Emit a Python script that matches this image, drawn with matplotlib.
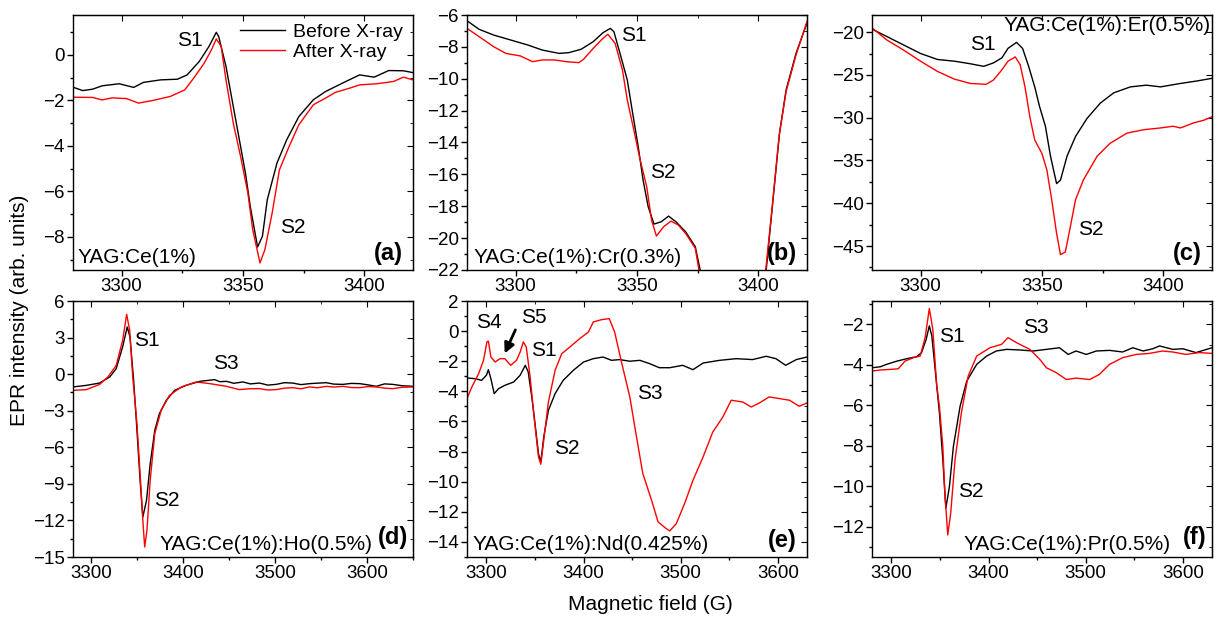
import numpy as np
import matplotlib
matplotlib.use('Agg')
from matplotlib import pyplot as plt
from matplotlib.ticker import MultipleLocator

plt.rcParams['font.family'] = ['Liberation Sans', 'DejaVu Sans']

# (a) YAG:Ce(1%)
a_bx = [3280, 3284, 3288, 3292, 3299, 3305, 3309, 3316, 3323, 3327, 3332, 3336, 3339, 3340, 3343, 3346,
        3349, 3351, 3353, 3356, 3358, 3360, 3364, 3368, 3373, 3379, 3384, 3391, 3398, 3404, 3410, 3416, 3420]
a_by = [-1.42, -1.57, -1.51, -1.36, -1.27, -1.43, -1.21, -1.10, -1.07, -0.88, -0.29, 0.37, 0.99, 0.80, -0.51, -2.27,
        -4.02, -5.19, -6.66, -8.44, -7.97, -6.36, -4.75, -3.73, -2.71, -1.97, -1.61, -1.24, -0.88, -0.98, -0.69, -0.70, -0.78]
a_ax = [3280, 3288, 3292, 3296, 3302, 3307, 3313, 3320, 3326, 3330, 3334, 3337, 3339, 3341, 3343, 3346, 3349,
        3352, 3354, 3357, 3359, 3362, 3365, 3369, 3373, 3379, 3384, 3388, 3394, 3398, 3405, 3412, 3416, 3420]
a_ay = [-1.86, -1.87, -1.98, -1.89, -1.92, -2.12, -2.00, -1.83, -1.54, -0.98, -0.37, 0.22, 0.70, 0.37, -1.10, -3.00, -4.46,
        -6.07, -7.68, -9.14, -8.56, -6.95, -5.05, -4.02, -3.07, -2.19, -1.90, -1.65, -1.46, -1.32, -1.27, -1.17, -0.98, -1.10]

# (b) YAG:Ce(1%):Cr(0.3%)
b_bx = [3280, 3285, 3291, 3298, 3305, 3311, 3318, 3322, 3327, 3332, 3336, 3339, 3340.5, 3343, 3346, 3348,
        3350.5, 3352.5, 3354.6, 3357, 3360, 3363, 3366, 3370, 3374, 3376, 3380, 3390, 3400, 3403.2, 3406,
        3408.7, 3411.4, 3415.5, 3420]
b_by = [-6.36, -6.90, -7.26, -7.57, -7.88, -8.20, -8.41, -8.36, -8.15, -7.67, -7.11, -6.84, -7.05, -8.41, -10.08, -11.96,
        -14.26, -16.35, -18.03, -19.12, -18.97, -18.62, -18.97, -19.60, -20.54, -22.0, -25.0, -27.0, -25.0, -22.0, -17.6,
        -13.4, -10.7, -8.4, -6.5]
b_ax = [3280, 3285, 3291, 3296, 3302, 3307, 3311, 3316, 3321, 3326, 3328, 3332, 3336, 3338, 3341, 3344, 3346,
        3349, 3351, 3354, 3356, 3358, 3361, 3364, 3367, 3370, 3374, 3375.5, 3380, 3390, 3400, 3403, 3405.7,
        3408.5, 3411.4, 3415.5, 3420]
b_ay = [-6.84, -7.36, -7.99, -8.41, -8.57, -8.93, -8.82, -8.82, -8.93, -8.99, -8.78, -8.09, -7.46, -7.21, -7.78, -9.45, -11.33,
        -13.43, -14.89, -16.77, -18.87, -19.87, -19.28, -18.93, -19.18, -19.70, -20.64, -22.0, -25.5, -27.5, -25.0, -22.0, -18.0,
        -13.6, -10.8, -8.5, -6.4]

# (c) YAG:Ce(1%):Er(0.5%)
c_bx = [3280, 3286, 3293, 3300, 3307, 3314, 3320.5, 3326, 3330, 3333.5, 3336, 3339.5, 3342, 3344.5, 3347, 3349,
        3351.4, 3353.5, 3356, 3357.6, 3360.3, 3363.8, 3368.5, 3374, 3379.5, 3386.4, 3393, 3398.8, 3407, 3414, 3420]
c_by = [-19.65, -20.5, -21.5, -22.5, -23.2, -23.4, -23.7, -24.0, -23.6, -23.0, -21.9, -21.2, -21.9, -24.0, -26.4, -28.7,
        -31.0, -34.5, -37.7, -37.3, -34.5, -32.2, -30.1, -28.3, -27.1, -26.4, -26.2, -26.4, -26.0, -25.7, -25.4]
c_ax = [3280, 3286, 3293, 3300, 3307, 3314, 3320.5, 3327, 3330, 3333.5, 3336, 3339, 3341, 3343, 3345, 3347, 3350,
        3352, 3354, 3356, 3357.6, 3359.6, 3361.7, 3363.8, 3367, 3372.7, 3378, 3385, 3392, 3398.8, 3404, 3407,
        3412.5, 3416.6, 3420]
c_ay = [-19.5, -20.9, -22.1, -23.4, -24.6, -25.5, -26.0, -26.1, -25.6, -24.4, -23.4, -22.9, -23.8, -26.4, -29.9, -32.6, -34.2,
        -36.1, -39.6, -43.5, -46.0, -45.7, -42.7, -39.6, -37.3, -34.5, -33.0, -31.8, -31.4, -31.2, -31.0, -31.2,
        -30.6, -30.3, -29.9]

# (d) YAG:Ce(1%):Ho(0.5%)
d_bx = [3280, 3294.5, 3309, 3320, 3327, 3334, 3339, 3342, 3346, 3349.6, 3353, 3356, 3360, 3364, 3369, 3374,
        3381.5, 3390.6, 3403, 3418, 3434, 3440, 3447, 3455, 3465, 3473, 3483, 3492, 3501, 3510, 3519, 3528,
        3537.5, 3546, 3555.6, 3564, 3573.8, 3583, 3592, 3601, 3610, 3619, 3628, 3638, 3650]
d_by = [-1.05, -0.92, -0.73, -0.23, 0.45, 2.23, 3.87, 3.05, -0.51, -4.61, -8.71, -11.72, -10.35, -7.34, -4.61, -3.24,
        -2.15, -1.33, -0.92, -0.59, -0.45, -0.62, -0.59, -0.75, -0.64, -0.80, -0.73, -0.90, -0.84, -0.70, -0.73, -0.86,
        -0.78, -0.74, -0.70, -0.82, -0.84, -0.76, -0.78, -0.88, -1.0, -0.80, -0.84, -0.95, -1.0]
d_ax = [3280, 3294.5, 3309, 3318, 3327, 3334, 3338.4, 3341.7, 3345, 3349.6, 3353, 3356, 3358, 3360.5, 3364, 3369,
        3376, 3385, 3398, 3414, 3429, 3447, 3461, 3472, 3483, 3492, 3501, 3510, 3519, 3528, 3537.5, 3546, 3555.6,
        3564, 3573.8, 3583, 3592, 3601, 3610, 3619, 3628, 3638, 3650]
d_ay = [-1.33, -1.27, -0.84, -0.23, 0.72, 2.77, 4.91, 3.59, -0.23, -4.06, -8.16, -11.99, -14.18, -12.81, -8.71, -4.88,
        -2.97, -1.74, -1.05, -0.64, -0.78, -1.0, -1.27, -1.20, -1.19, -1.30, -1.27, -1.15, -1.11, -1.20, -1.05, -1.12, -1.0,
        -1.06, -1.0, -1.10, -1.11, -1.02, -1.05, -1.15, -1.19, -1.08, -1.05]

# (e) YAG:Ce(1%):Nd(0.425%)
e_bx = [3280, 3288.6, 3295, 3300, 3302, 3304.6, 3308, 3312.5, 3319, 3328, 3334.7, 3340, 3343, 3346.7, 3350,
        3353.6, 3356, 3359, 3363.8, 3370.7, 3379, 3389.5, 3400, 3410, 3420, 3428.8, 3437, 3447.6, 3458, 3468,
        3478, 3488.7, 3502, 3512.6, 3523, 3540, 3557, 3574, 3588, 3598, 3608, 3619, 3630]
e_by = [-3.11, -3.16, -3.27, -2.93, -2.56, -3.16, -4.15, -3.82, -3.60, -3.38, -2.93, -2.27, -2.71, -4.37, -6.14,
        -8.14, -8.69, -7.03, -5.26, -4.15, -3.27, -2.60, -2.05, -1.83, -1.72, -1.94, -1.89, -2.0, -1.94, -2.16,
        -2.43, -2.43, -2.27, -2.56, -2.12, -1.94, -1.83, -1.89, -1.67, -1.83, -2.27, -1.89, -1.72]
e_ax = [3280, 3285, 3292, 3297, 3300.5, 3302, 3304.6, 3309, 3314, 3319, 3325, 3331, 3334.7, 3338, 3341, 3345,
        3349.4, 3353.6, 3356, 3359, 3363.8, 3370.7, 3377.5, 3386, 3396, 3405, 3410, 3418.5, 3426.4, 3432, 3439,
        3447.6, 3454.5, 3461, 3470, 3476.7, 3485, 3488.7, 3495.5, 3504, 3512.6, 3523, 3533, 3543.4, 3552, 3564,
        3572.5, 3581, 3591, 3601.6, 3612, 3622, 3630]
e_ay = [-4.48, -3.71, -2.82, -1.94, -0.72, -0.66, -1.72, -2.05, -1.83, -1.83, -2.27, -1.94, -1.39, -0.72, -1.05, -3.05,
        -5.92, -8.36, -8.84, -7.25, -4.71, -2.60, -1.50, -1.05, -0.50, -0.06, 0.61, 0.76, 0.83, -0.06, -2.05,
        -4.37, -7.03, -9.46, -11.23, -12.67, -13.11, -13.27, -12.78, -11.45, -9.91, -8.36, -6.70, -5.70, -4.59, -4.71,
        -5.04, -4.77, -4.37, -4.48, -4.59, -4.99, -4.77]

# (f) YAG:Ce(1%):Pr(0.5%)
f_bx = [3280, 3288.5, 3295, 3305.7, 3316, 3326, 3331, 3335.8, 3339, 3341.6, 3345, 3349.4, 3352.9, 3356, 3359.7,
        3363.8, 3370.7, 3377.5, 3387.8, 3398, 3408, 3418.5, 3432, 3446, 3459.6, 3473, 3482, 3490, 3500.6, 3511,
        3524.6, 3538, 3548.5, 3559, 3569, 3576, 3589.6, 3600, 3613.5, 3630]
f_by = [-4.15, -4.10, -3.98, -3.82, -3.70, -3.60, -3.40, -2.74, -2.08, -2.58, -4.23, -6.38, -8.69, -11.09, -10.02,
        -8.03, -6.05, -4.81, -3.98, -3.57, -3.32, -3.24, -3.27, -3.32, -3.24, -3.16, -3.49, -3.32, -3.49, -3.32,
        -3.29, -3.37, -3.16, -3.32, -3.21, -3.07, -3.24, -3.21, -3.40, -3.16]
f_ax = [3280, 3288.5, 3298.8, 3307, 3314, 3322.8, 3329.6, 3334.7, 3339, 3342.6, 3346.7, 3349.4, 3352.9, 3355, 3358,
        3361, 3365.5, 3372, 3379, 3387.8, 3401.4, 3413.4, 3420, 3428.8, 3442.5, 3452.8, 3459.6, 3470, 3480, 3490,
        3504, 3514, 3524.6, 3538, 3552, 3565.6, 3579, 3589.6, 3603, 3617, 3630]
f_ay = [-4.31, -4.26, -4.23, -4.20, -3.82, -3.65, -3.57, -2.66, -1.22, -2.25, -5.06, -6.05, -8.03, -10.35, -12.41,
        -11.34, -8.69, -6.38, -4.56, -3.57, -3.16, -2.99, -2.66, -2.91, -3.24, -3.74, -4.15, -4.40, -4.73, -4.66,
        -4.73, -4.48, -3.98, -3.65, -3.49, -3.44, -3.32, -3.37, -3.49, -3.40, -3.44]

samples = ['YAG:Ce(1%)', 'YAG:Ce(1%):Cr(0.3%)', 'YAG:Ce(1%):Er(0.5%)',
           'YAG:Ce(1%):Ho(0.5%)', 'YAG:Ce(1%):Nd(0.425%)', 'YAG:Ce(1%):Pr(0.5%)']
letters = ['(a)', '(b)', '(c)', '(d)', '(e)', '(f)']

fig = plt.figure(figsize=(12.16, 6.2), dpi=100)
W = 1216.0
H = 620.0
lefts = [73, 467, 872]
axes = []
for row, (top, bot) in enumerate([(15, 270), (301, 557)]):
    for col in range(3):
        l = lefts[col]
        ax = fig.add_axes([l / W, (H - bot) / H, 340 / W, (bot - top) / H])
        axes.append(ax)

curves = [(a_bx, a_by, a_ax, a_ay), (b_bx, b_by, b_ax, b_ay), (c_bx, c_by, c_ax, c_ay),
          (d_bx, d_by, d_ax, d_ay), (e_bx, e_by, e_ax, e_ay), (f_bx, f_by, f_ax, f_ay)]
xlims = [(3280, 3420), (3280, 3420), (3280, 3420), (3280, 3650), (3280, 3630), (3280, 3630)]
ylims = [(-9.45, 1.75), (-22, -6), (-47.8, -18), (-15, 6), (-15, 2), (-13.5, -0.85)]
ymaj = [2, 2, 5, 3, 2, 2]
xmaj = [50, 50, 50, 100, 100, 100]

for i, ax in enumerate(axes):
    bx, by, rx, ry = curves[i]
    ax.plot(bx, by, color='black', lw=1.0, label='Before X-ray')
    ax.plot(rx, ry, color='red', lw=1.0, label='After X-ray')
    ax.set_xlim(*xlims[i])
    ax.set_ylim(*ylims[i])
    ax.xaxis.set_major_locator(MultipleLocator(xmaj[i]))
    ax.xaxis.set_minor_locator(MultipleLocator(xmaj[i] / 2))
    ax.yaxis.set_major_locator(MultipleLocator(ymaj[i]))
    ax.yaxis.set_minor_locator(MultipleLocator(ymaj[i] / 2))
    ax.tick_params(which='both', direction='out', labelsize=13.5, width=1, pad=2)
    ax.tick_params(which='major', length=4)
    ax.tick_params(which='minor', length=2)
    for s in ax.spines.values():
        s.set_linewidth(1.0)
    # ticks pointing in on top and right
    sx = ax.secondary_xaxis('top')
    sx.xaxis.set_major_locator(MultipleLocator(xmaj[i]))
    sx.xaxis.set_minor_locator(MultipleLocator(xmaj[i] / 2))
    sx.tick_params(which='both', direction='in', labeltop=False)
    sx.tick_params(which='major', length=4)
    sx.tick_params(which='minor', length=2)
    sy = ax.secondary_yaxis('right')
    sy.yaxis.set_major_locator(MultipleLocator(ymaj[i]))
    sy.yaxis.set_minor_locator(MultipleLocator(ymaj[i] / 2))
    sy.tick_params(which='both', direction='in', labelright=False)
    sy.tick_params(which='major', length=4)
    sy.tick_params(which='minor', length=2)

# sample names and panel letters
sfs = 15
axes[0].text(0.012, 0.01, samples[0], transform=axes[0].transAxes, fontsize=sfs, ha='left', va='bottom')
axes[1].text(0.02, 0.01, samples[1], transform=axes[1].transAxes, fontsize=sfs, ha='left', va='bottom')
axes[2].text(0.995, 0.995, samples[2], transform=axes[2].transAxes, fontsize=sfs, ha='right', va='top')
axes[3].text(0.255, 0.01, samples[3], transform=axes[3].transAxes, fontsize=sfs, ha='left', va='bottom')
axes[4].text(0.015, 0.01, samples[4], transform=axes[4].transAxes, fontsize=sfs, ha='left', va='bottom')
axes[5].text(0.269, 0.01, samples[5], transform=axes[5].transAxes, fontsize=sfs, ha='left', va='bottom')
for i, ax in enumerate(axes):
    yb = 0.03 if i in (3, 5) else 0.02
    xr = 0.985 if i in (3, 5) else 0.97
    ax.text(xr, yb, letters[i], transform=ax.transAxes, fontsize=17, fontweight='bold',
            ha='right', va='bottom')

# peak labels
fs = 15
axes[0].text(3328, 0.63, 'S1', fontsize=fs, ha='center', va='center')
axes[0].text(3370.6, -7.6, 'S2', fontsize=fs, ha='center', va='center')
axes[1].text(3348.7, -7.26, 'S1', fontsize=fs, ha='center', va='center')
axes[1].text(3360.8, -15.9, 'S2', fontsize=fs, ha='center', va='center')
axes[2].text(3325.6, -21.5, 'S1', fontsize=fs, ha='center', va='center')
axes[2].text(3370, -43.1, 'S2', fontsize=fs, ha='center', va='center')
axes[3].text(3360.5, 2.72, 'S1', fontsize=fs, ha='center', va='center')
axes[3].text(3382, -10.4, 'S2', fontsize=fs, ha='center', va='center')
axes[3].text(3446.8, 0.86, 'S3', fontsize=fs, ha='center', va='center')
axes[4].text(3302, 0.54, 'S4', fontsize=fs, ha='center', va='center')
axes[4].text(3348.4, 0.89, 'S5', fontsize=fs, ha='center', va='center')
axes[4].text(3359.4, -1.28, 'S1', fontsize=fs, ha='center', va='center')
axes[4].text(3382.6, -7.8, 'S2', fontsize=fs, ha='center', va='center')
axes[4].text(3468, -4.15, 'S3', fontsize=fs, ha='center', va='center')
axes[4].annotate('', xy=(3317.6, -1.65), xytext=(3331, 0.25),
                 arrowprops=dict(arrowstyle='-|>,head_width=0.3,head_length=0.6', color='black', lw=2))
axes[5].text(3362.5, -2.58, 'S1', fontsize=fs, ha='center', va='center')
axes[5].text(3381.6, -10.27, 'S2', fontsize=fs, ha='center', va='center')
axes[5].text(3449, -2.17, 'S3', fontsize=fs, ha='center', va='center')

axes[0].legend(loc='upper right', bbox_to_anchor=(1.015, 1.03), frameon=False, fontsize=14,
               handlelength=2.3, handletextpad=0.4, labelspacing=0.15, borderpad=0.3)

fig.text(20 / W, 0.5, 'EPR intensity (arb. units)', rotation=90, fontsize=15, ha='center', va='center')
fig.text(650 / W, 1 - 605 / H, 'Magnetic field (G)', fontsize=15, ha='center', va='center')

plt.savefig('out.png', dpi=100)
